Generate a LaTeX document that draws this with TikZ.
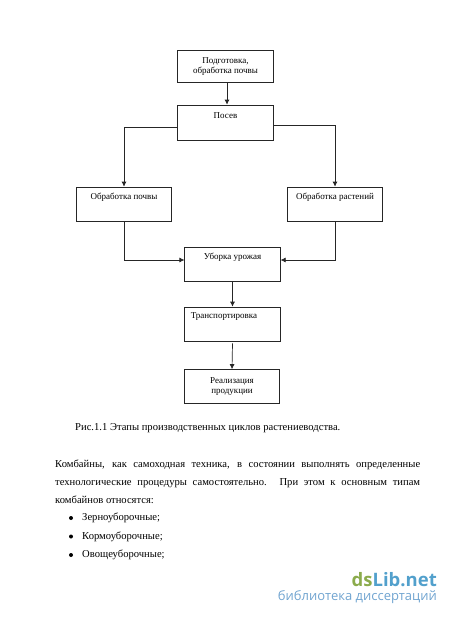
\documentclass[tikz,border=0pt]{standalone}
\usepackage{fontspec}
\setmainfont{Liberation Serif}
\newfontfamily\marksans{Open Sans}
\usetikzlibrary{arrows.meta}
\definecolor{markgreen}{RGB}{139,171,76}
\definecolor{markblue}{RGB}{82,160,204}
\definecolor{markpale}{RGB}{112,164,208}
\tikzset{
    stage/.style={draw=black!85, line width=0.7pt, minimum width=95.5pt, inner sep=0pt, align=center, font=\fontsize{9}{10.5}\selectfont},
    flow/.style={draw=black!85, line width=0.7pt, -{Latex[length=5pt,width=5pt]}},
    body/.style={anchor=west, inner sep=0pt, font=\fontsize{10.6}{18}\selectfont},
    dot/.style={circle, fill=black, inner sep=0pt, minimum size=4pt}
}
\begin{document}
\begin{tikzpicture}[x=1pt, y=-1pt]
    \useasboundingbox (0,0) rectangle (450,618);
    \node[stage, minimum height=32pt] (prep) at (225.5,66.5) {Подготовка,\\обработка почвы};
    \node[stage, minimum height=35pt, text depth=14pt] (sowing) at (225.5,122.5) {Посев};
    \node[stage, minimum height=34pt, text depth=16pt] (soil) at (124,204) {Обработка почвы};
    \node[stage, minimum height=34pt, text depth=16pt] (plants) at (335,204) {Обработка растений};
    \node[stage, minimum height=34pt, text depth=16pt] (harvest) at (232.5,264) {Уборка урожая};
    \node[stage, minimum height=34pt, text depth=16pt, text width=95.5pt, align=left] (transport) at (232.5,324) {\hspace{6pt}Транспортировка};
    \node[stage, minimum height=34pt] (sale) at (232,386.5) {Реализация\\продукции};
    \draw[flow] ([xshift=1.5pt]prep.south) -- ([xshift=1.5pt]sowing.north);
    \draw[flow] ([yshift=-4.5pt]sowing.west) -| (soil.north);
    \draw[flow] ([yshift=-2.5pt]sowing.east) -| (plants.north);
    \draw[flow] (soil.south) |- ([yshift=4pt]harvest.west);
    \draw[flow] (plants.south) |- ([yshift=4pt]harvest.east);
    \draw[flow] (harvest.south) -- (transport.north);
    \draw[flow] ([yshift=-2pt]transport.south) -- (sale.north);
    \node[body] (caption) at (75,428) {Рис.1.1 Этапы производственных циклов растениеводства.};
    \node[body, text width=365pt, align=justify, anchor=north west] (para) at (55,460) {Комбайны, как самоходная техника, в состоянии выполнять определенные технологические процедуры самостоятельно. При этом к основным типам комбайнов относятся:};
    \node[dot] (dota) at (71,518) {};
    \node[dot] (dotb) at (71,536.5) {};
    \node[dot] (dotc) at (71,555) {};
    \node[body] (grain) at (82,518) {Зерноуборочные;};
    \node[body] (fodder) at (82,536.5) {Кормоуборочные;};
    \node[body] (veg) at (82,555) {Овощеуборочные;};
    \node[anchor=east, inner sep=0pt, font=\marksans\bfseries\fontsize{18.5}{18}\selectfont] (logo) at (437,580) {\textcolor{markgreen}{ds}\textcolor{markblue}{Lib.net}};
    \node[anchor=east, inner sep=0pt, text=markpale, font=\marksans\fontsize{13}{13}\selectfont] (tagline) at (437,597) {библиотека диссертаций};
\end{tikzpicture}
\end{document}
